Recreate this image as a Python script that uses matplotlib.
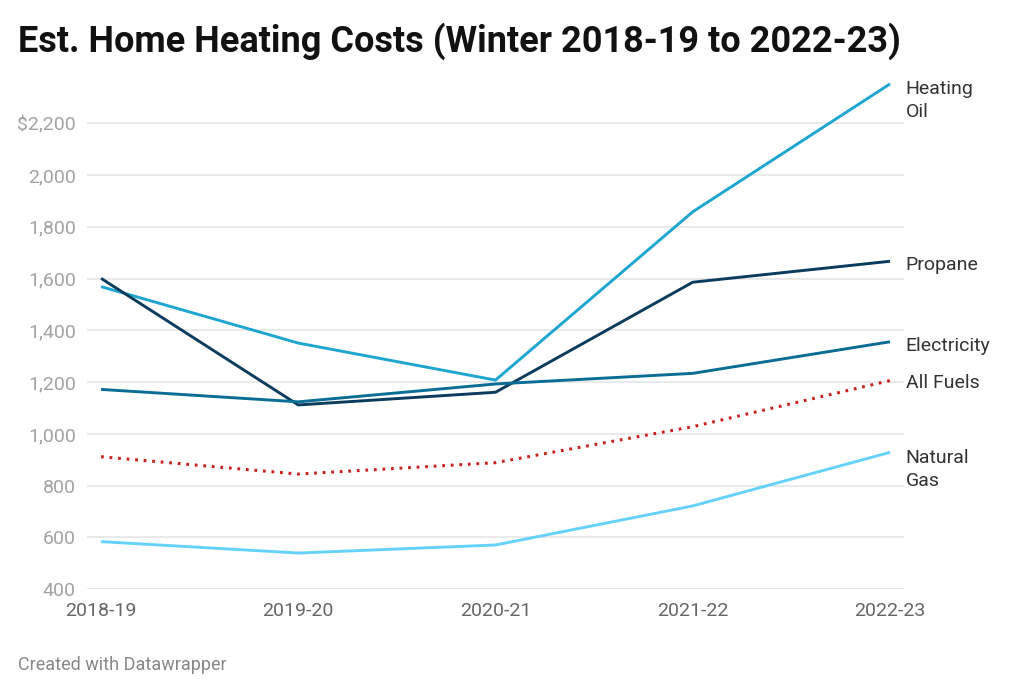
import matplotlib.pyplot as plt
import numpy as np

plt.rcParams['font.family'] = ['Roboto', 'DejaVu Sans']

# ..................data..................#
seasons = ['2018-19', '2019-20', '2020-21', '2021-22', '2022-23']
heating_oil = [1569, 1351, 1208, 1858, 2352]
propane = [1601, 1112, 1161, 1586, 1667]
electricity = [1172, 1124, 1193, 1234, 1356]
all_fuels = [912, 845, 889, 1028, 1206]
natural_gas = [584, 540, 571, 722, 929]
yticks = [400, 600, 800, 1000, 1200, 1400, 1600, 1800, 2000, 2200]

series = [
    ('Heating\nOil', heating_oil, '#1ea6d1', '-'),
    ('Propane', propane, '#0b3c5d', '-'),
    ('Electricity', electricity, '#0a6d95', '-'),
    ('All Fuels', all_fuels, '#c9211e', ':'),
    ('Natural\nGas', natural_gas, '#66d2fb', '-'),
]
# label y positions (data units) so texts don't collide
label_y = {'Heating\nOil': 2288, 'Propane': 1652, 'Electricity': 1341,
           'All Fuels': 1195, 'Natural\nGas': 862}

fig = plt.figure(figsize=(10.24, 6.94), dpi=100)
ax = fig.add_axes([0.085, 0.1509, 0.7978, 0.7461])

x = np.arange(len(seasons))
for name, vals, col, ls in series:
    if ls == ':':
        ax.plot(x, vals, color=col, lw=2.2, linestyle=(0, (0.9, 1.9)),
                dash_capstyle='butt', clip_on=False, zorder=3)
    else:
        ax.plot(x, vals, color=col, lw=2.1, clip_on=False, zorder=3,
                solid_capstyle='butt')
    ax.text(4.08, label_y[name], name, fontsize=14, color='#333333',
            va='center', ha='left', linespacing=1.35)

ax.set_xlim(-0.071, 4.071)
ax.set_ylim(400, 2400)
ax.set_yticks(yticks)
ax.set_yticklabels(['$2,200' if v == 2200 else f'{v:,}' for v in yticks])
ax.set_xticks(x)
ax.set_xticklabels(seasons)
ax.grid(axis='y', color='#e5e5e5', lw=1.2, zorder=0)
ax.tick_params(axis='y', length=0, pad=8, labelsize=14, labelcolor='#a3a3a3')
ax.tick_params(axis='x', length=0, pad=9, labelsize=14, labelcolor='#666666')
for s in ax.spines.values():
    s.set_visible(False)

fig.text(0.0176, 0.94, 'Est. Home Heating Costs (Winter 2018-19 to 2022-23)',
         fontsize=26, fontweight='bold', color='#111111', va='center')
fig.text(0.0176, 0.042, 'Created with Datawrapper', fontsize=13,
         color='#888888', va='center')

plt.savefig('out.png', dpi=100)
